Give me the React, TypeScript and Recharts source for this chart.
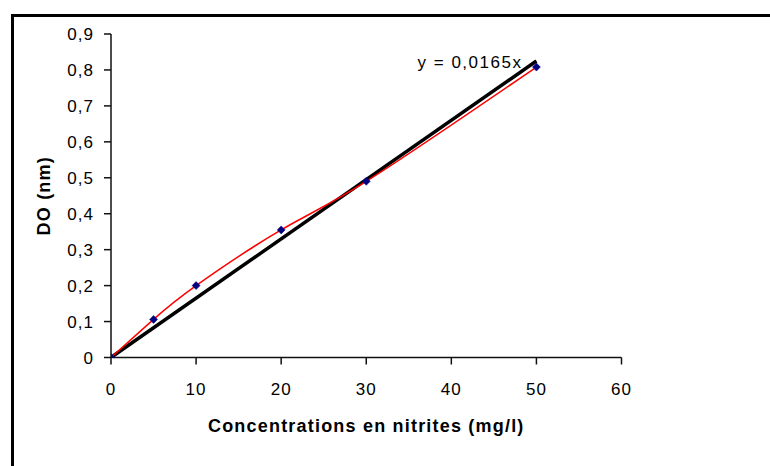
import React from 'react';
import { ComposedChart, Line, Scatter, XAxis, YAxis, Label } from 'recharts';

const concentrations = [0, 5, 10, 20, 30, 50];
const absorbances = [0, 0.106, 0.2, 0.355, 0.49, 0.808];
const trendX = [0, 50];
const trendY = [0, 0.825];
const xTicks = [0, 10, 20, 30, 40, 50, 60];
const yTicks = [0, 0.1, 0.2, 0.3, 0.4, 0.5, 0.6, 0.7, 0.8, 0.9];
const equationText = 'y = 0,0165x';
const xTitle = 'Concentrations en nitrites (mg/l)';
const yTitle = 'DO (nm)';

const measured = concentrations.map((x, i) => ({ x, y: absorbances[i] }));
const trend = trendX.map((x, i) => ({ x, t: trendY[i] }));

const FONT = '"Liberation Sans", Arial, sans-serif';
const fmt = (v: number) => String(v).replace('.', ',');

const YTitle = (props: any) => {
  const vb = props.viewBox || { x: 0, y: 0, width: 0, height: 0 };
  const cx = vb.x + 44;
  const cy = vb.y + vb.height / 2;
  return (
    <text
      x={cx}
      y={cy}
      transform={`rotate(-90 ${cx} ${cy})`}
      textAnchor="middle"
      dominantBaseline="central"
      fontFamily={FONT}
      fontWeight="bold"
      fontSize={18}
      letterSpacing={1.2}
      fill="#000"
    >
      {yTitle}
    </text>
  );
};

const XTitle = (props: any) => {
  const vb = props.viewBox || { x: 0, y: 0, width: 0, height: 0 };
  return (
    <text
      x={vb.x + vb.width / 2}
      y={vb.y + 74}
      textAnchor="middle"
      fontFamily={FONT}
      fontWeight="bold"
      fontSize={18}
      letterSpacing={1.2}
      fill="#000"
    >
      {xTitle}
    </text>
  );
};

const EquationLabel = (props: any) => {
  const { x, y, index } = props;
  if (index !== trend.length - 1) return null;
  return (
    <text
      x={x - 14}
      y={y + 7}
      textAnchor="end"
      fontFamily={FONT}
      fontSize={17}
      letterSpacing={1.5}
      fill="#000"
    >
      {equationText}
    </text>
  );
};

const Diamond = (props: any) => {
  const { cx, cy } = props;
  if (cx == null || cy == null) return null;
  const r = 4;
  return (
    <polygon
      points={`${cx},${cy - r} ${cx + r},${cy} ${cx},${cy + r} ${cx - r},${cy}`}
      fill="#000080"
      stroke="#000080"
      strokeWidth={0.5}
    />
  );
};

export default function App() {
  return (
    <div
      style={{
        position: 'absolute',
        left: 0,
        top: 0,
        width: 770,
        height: 466,
        background: '#fff',
        overflow: 'hidden',
      }}
    >
      <div
        style={{
          position: 'absolute',
          left: 11,
          top: 13.5,
          width: 800,
          height: 500,
          borderTop: '3px solid #000',
          borderLeft: '3px solid #000',
        }}
      />
      <div style={{ position: 'absolute', left: 0, top: 0 }}>
        <ComposedChart
          width={770}
          height={466}
          margin={{ top: 34, right: 148.5, bottom: 28.5, left: 0 }}
        >
          <XAxis
            type="number"
            dataKey="x"
            domain={[0, 60]}
            ticks={xTicks}
            allowDataOverflow
            height={80}
            tickSize={7}
            tickMargin={18}
            stroke="#111"
            strokeWidth={1.5}
            tick={{ fill: '#000', fontSize: 17, fontFamily: FONT, letterSpacing: 1 }}
            tickFormatter={fmt}
          >
            <Label content={XTitle} />
          </XAxis>
          <YAxis
            type="number"
            dataKey="y"
            domain={[0, 0.9]}
            ticks={yTicks}
            allowDataOverflow
            width={111}
            tickSize={7}
            tickMargin={10}
            stroke="#111"
            strokeWidth={1.5}
            tick={{ fill: '#000', fontSize: 17, fontFamily: FONT, letterSpacing: 1 }}
            tickFormatter={fmt}
          >
            <Label content={YTitle} />
          </YAxis>
          <Line
            data={trend}
            dataKey="t"
            type="linear"
            stroke="#000"
            strokeWidth={3.5}
            dot={false}
            activeDot={false}
            isAnimationActive={false}
            label={<EquationLabel />}
          />
          <Line
            data={measured}
            dataKey="y"
            type="natural"
            stroke="#ff0000"
            strokeWidth={1.5}
            dot={false}
            activeDot={false}
            isAnimationActive={false}
          />
          <Scatter
            data={measured}
            dataKey="y"
            shape={<Diamond />}
            isAnimationActive={false}
          />
        </ComposedChart>
      </div>
    </div>
  );
}
